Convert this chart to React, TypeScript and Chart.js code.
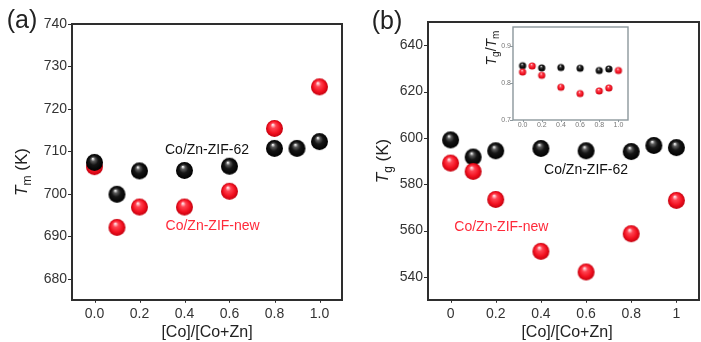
import React, { useEffect, useRef } from "react";
import { Chart, registerables } from "chart.js";
Chart.register(...registerables);

const FONT = '"Liberation Sans", Arial, Helvetica, sans-serif';
const RED = "#ff2a3a";

// ---------- Panel (a): Tm ----------
const xBlackA = [0, 0.1, 0.2, 0.4, 0.6, 0.8, 0.9, 1.0];
const tmBlack = [707.4, 699.9, 705.4, 705.5, 706.5, 710.7, 710.7, 712.3];
const xRedA = [0, 0.1, 0.2, 0.4, 0.6, 0.8, 1.0];
const tmRed = [706.4, 692.1, 696.9, 696.9, 700.6, 715.4, 725.2];
const xTicksA = [0, 0.2, 0.4, 0.6, 0.8, 1.0];
const yTicksA = [680, 690, 700, 710, 720, 730, 740];

// ---------- Panel (b): Tg ----------
const xBlackB = [0, 0.1, 0.2, 0.4, 0.6, 0.8, 0.9, 1.0];
const tgBlack = [599.1, 591.7, 594.4, 595.4, 594.4, 594.1, 596.7, 595.8];
const xRedB = [0, 0.1, 0.2, 0.4, 0.6, 0.8, 1.0];
const tgRed = [589.1, 585.5, 573.4, 551.0, 542.1, 558.6, 573.0];
const xTicksB = [0, 0.2, 0.4, 0.6, 0.8, 1];
const yTicksB = [540, 560, 580, 600, 620, 640];

// ---------- Inset: Tg/Tm ----------
const xBlackIn = [0, 0.2, 0.4, 0.6, 0.8, 0.9];
const ratioBlack = [0.846, 0.84, 0.841, 0.839, 0.833, 0.837];
const xRedIn = [0, 0.1, 0.2, 0.4, 0.6, 0.8, 0.9, 1.0];
const ratioRed = [0.829, 0.845, 0.82, 0.788, 0.771, 0.778, 0.786, 0.833];
const xTicksIn = [0, 0.2, 0.4, 0.6, 0.8, 1.0];
const yTicksIn = [0.7, 0.8, 0.9];

const seriesLabels = ["Co/Zn-ZIF-62", "Co/Zn-ZIF-new"];
const xTitle = "[Co]/[Co+Zn]";

type Part = { t: string; italic?: boolean; sub?: boolean };

function makeBall(r: number, kind: "black" | "red") {
  const c = document.createElement("canvas");
  const s = Math.ceil(r * 2 + 2);
  c.width = s;
  c.height = s;
  const ctx = c.getContext("2d")!;
  const cx = s / 2,
    cy = s / 2;
  const g = ctx.createRadialGradient(cx - r * 0.2, cy - r * 0.45, r * 0.05, cx, cy, r);
  if (kind === "black") {
    g.addColorStop(0, "#f4f4f4");
    g.addColorStop(0.2, "#5c5c5c");
    g.addColorStop(0.5, "#161616");
    g.addColorStop(1, "#000000");
  } else {
    g.addColorStop(0, "#ffe4e8");
    g.addColorStop(0.28, "#ff4452");
    g.addColorStop(0.7, "#f2101f");
    g.addColorStop(1, "#c2000e");
  }
  ctx.fillStyle = g;
  ctx.beginPath();
  ctx.arc(cx, cy, r, 0, Math.PI * 2);
  ctx.fill();
  return c;
}

function drawRich(
  ctx: CanvasRenderingContext2D,
  parts: Part[],
  cx: number,
  cy: number,
  size: number,
  color: string,
  rotate: boolean
) {
  ctx.save();
  ctx.translate(cx, cy);
  if (rotate) ctx.rotate(-Math.PI / 2);
  const fontFor = (p: Part) => `${p.italic ? "italic " : ""}${p.sub ? Math.round(size * 0.68) : size}px ${FONT}`;
  let total = 0;
  for (const p of parts) {
    ctx.font = fontFor(p);
    total += ctx.measureText(p.t).width;
  }
  let x = -total / 2;
  ctx.fillStyle = color;
  ctx.textBaseline = "middle";
  ctx.textAlign = "left";
  for (const p of parts) {
    ctx.font = fontFor(p);
    ctx.fillText(p.t, x, p.sub ? size * 0.32 : 0);
    x += ctx.measureText(p.t).width;
  }
  ctx.restore();
}

function pts(xs: number[], ys: number[]) {
  return xs.map((x, i) => ({ x, y: ys[i] }));
}

function panelConfig(o: any) {
  return {
    type: "scatter",
    data: { datasets: o.datasets },
    options: {
      animation: false,
      responsive: false,
      events: [],
      layout: { padding: o.padding },
      plugins: { legend: { display: false }, tooltip: { enabled: false } },
      scales: {
        x: {
          type: "linear",
          min: o.xMin,
          max: o.xMax,
          grid: { display: false, drawTicks: false },
          border: { display: false },
          afterBuildTicks: (s: any) => {
            s.ticks = o.xTicks.map((v: number) => ({ value: v }));
          },
          afterFit: (s: any) => {
            s.height = o.xAxisHeight;
          },
          ticks: {
            font: { family: FONT, size: o.tickSize },
            color: o.tickColor,
            padding: o.xTickPad,
            maxRotation: 0,
            autoSkip: false,
            callback: (v: number) => o.xFmt(v),
          },
        },
        y: {
          type: "linear",
          min: o.yMin,
          max: o.yMax,
          grid: { display: false, drawTicks: false },
          border: { display: false },
          afterBuildTicks: (s: any) => {
            s.ticks = o.yTicks.map((v: number) => ({ value: v }));
          },
          afterFit: (s: any) => {
            s.width = o.yAxisWidth;
          },
          ticks: {
            font: { family: FONT, size: o.tickSize },
            color: o.tickColor,
            padding: o.yTickPad,
            autoSkip: false,
            callback: (v: number) => o.yFmt(v),
          },
        },
      },
    },
    plugins: [
      {
        id: "frame",
        afterDraw(chart: any) {
          const ctx = chart.ctx as CanvasRenderingContext2D;
          const a = chart.chartArea;
          ctx.save();
          ctx.strokeStyle = o.frameColor;
          ctx.lineWidth = o.frameWidth;
          ctx.strokeRect(a.left, a.top, a.right - a.left, a.bottom - a.top);
          ctx.lineWidth = 1;
          const xs = chart.scales.x,
            ys = chart.scales.y;
          ctx.beginPath();
          for (const v of o.xTicks) {
            const px = Math.round(xs.getPixelForValue(v)) + 0.5;
            ctx.moveTo(px, a.bottom);
            ctx.lineTo(px, a.bottom + o.tickLen * 0.7);
          }
          for (const v of o.yTicks) {
            const py = Math.round(ys.getPixelForValue(v)) + 0.5;
            ctx.moveTo(a.left, py);
            ctx.lineTo(a.left - o.tickLen, py);
          }
          ctx.stroke();
          ctx.restore();
          if (o.extra) o.extra(chart, ctx);
        },
      },
    ],
  };
}

export default function App() {
  const refA = useRef<HTMLCanvasElement>(null);
  const refB = useRef<HTMLCanvasElement>(null);
  const refIn = useRef<HTMLCanvasElement>(null);

  useEffect(() => {
    const bigBlack = makeBall(8.5, "black");
    const bigRed = makeBall(8.5, "red");
    const smBlack = makeBall(3.6, "black");
    const smRed = makeBall(3.6, "red");

    const ds = (data: any[], style: any) => ({
      data,
      pointStyle: style,
      showLine: false,
      pointRadius: 8,
      backgroundColor: "#000",
      borderWidth: 0,
    });

    const common = {
      tickSize: 14,
      tickColor: "#333",
      frameColor: "#2e2e2e",
      frameWidth: 2,
      tickLen: 4,
      xTickPad: 6,
      yTickPad: 5,
      xAxisHeight: 42,
    };

    const cA = new Chart(
      refA.current!,
      panelConfig({
        ...common,
        datasets: [ds(pts(xBlackA, tmBlack), bigBlack), ds(pts(xRedA, tmRed), bigRed)],
        xMin: -0.1,
        xMax: 1.1,
        yMin: 675,
        yMax: 740,
        xTicks: xTicksA,
        yTicks: yTicksA,
        xFmt: (v: number) => v.toFixed(1),
        yFmt: (v: number) => String(v),
        yAxisWidth: 72,
        padding: { left: 0, top: 24, right: 1, bottom: 0 },
        extra: (chart: any, ctx: CanvasRenderingContext2D) => {
          const xs = chart.scales.x,
            ys = chart.scales.y;
          drawRich(ctx, [{ t: "(a)" }], 22, 21, 25, "#222", false);
          drawRich(ctx, [{ t: "T", italic: true }, { t: "m", sub: true }, { t: " (K)" }], 22, 172, 17, "#222", true);
          drawRich(ctx, [{ t: xTitle }], (xs.left + xs.right) / 2, 333, 16, "#222", false);
          drawRich(ctx, [{ t: seriesLabels[0] }], xs.getPixelForValue(0.5), ys.getPixelForValue(710.2), 14, "#111", false);
          drawRich(ctx, [{ t: seriesLabels[1] }], xs.getPixelForValue(0.525), ys.getPixelForValue(692.4), 14, RED, false);
        },
      }) as any
    );

    const cB = new Chart(
      refB.current!,
      panelConfig({
        ...common,
        datasets: [ds(pts(xRedB, tgRed), bigRed), ds(pts(xBlackB, tgBlack), bigBlack)],
        xMin: -0.1,
        xMax: 1.1,
        yMin: 530,
        yMax: 650,
        xTicks: xTicksB,
        yTicks: yTicksB,
        xFmt: (v: number) => String(v),
        yFmt: (v: number) => String(v),
        yAxisWidth: 78,
        padding: { left: 0, top: 22, right: 0, bottom: 0 },
        extra: (chart: any, ctx: CanvasRenderingContext2D) => {
          const xs = chart.scales.x,
            ys = chart.scales.y;
          drawRich(ctx, [{ t: "(b)" }], 37, 22, 25, "#222", false);
          drawRich(ctx, [{ t: "T", italic: true }, { t: "g", sub: true }, { t: " (K)" }], 33, 161, 17, "#222", true);
          drawRich(ctx, [{ t: xTitle }], 217, 333, 16, "#222", false);
          drawRich(ctx, [{ t: seriesLabels[0] }], xs.getPixelForValue(0.6), ys.getPixelForValue(586), 14, "#111", false);
          drawRich(ctx, [{ t: seriesLabels[1] }], xs.getPixelForValue(0.225), ys.getPixelForValue(561.5), 14, RED, false);
        },
      }) as any
    );

    const cIn = new Chart(
      refIn.current!,
      panelConfig({
        ...common,
        tickSize: 7,
        tickColor: "#777",
        frameColor: "#8c979c",
        frameWidth: 1.4,
        tickLen: 3,
        xTickPad: 1,
        yTickPad: 2,
        xAxisHeight: 10,
        datasets: [ds(pts(xRedIn, ratioRed), smRed), ds(pts(xBlackIn, ratioBlack), smBlack)],
        xMin: -0.1,
        xMax: 1.1,
        yMin: 0.7,
        yMax: 0.95,
        xTicks: xTicksIn,
        yTicks: yTicksIn,
        xFmt: (v: number) => v.toFixed(1),
        yFmt: (v: number) => v.toFixed(1),
        yAxisWidth: 43,
        padding: { left: 0, top: 12, right: 12, bottom: 0 },
        extra: (chart: any, ctx: CanvasRenderingContext2D) => {
          drawRich(
            ctx,
            [{ t: "T", italic: true }, { t: "g", sub: true }, { t: "/" }, { t: "T", italic: true }, { t: "m", sub: true }],
            22,
            33,
            14,
            "#222",
            true
          );
        },
      }) as any
    );

    return () => {
      cA.destroy();
      cB.destroy();
      cIn.destroy();
    };
  }, []);

  return (
    <div
      style={{
        position: "fixed",
        left: 0,
        top: 0,
        width: 701,
        height: 342,
        overflow: "hidden",
        background: "#fff",
      }}
    >
      <canvas ref={refA} width={350} height={342} style={{ position: "absolute", left: 0, top: 0, width: 350, height: 342 }} />
      <canvas ref={refB} width={357} height={342} style={{ position: "absolute", left: 350, top: 0, width: 357, height: 342 }} />
      <canvas ref={refIn} width={170} height={115} style={{ position: "absolute", left: 470, top: 15, width: 170, height: 115 }} />
    </div>
  );
}
